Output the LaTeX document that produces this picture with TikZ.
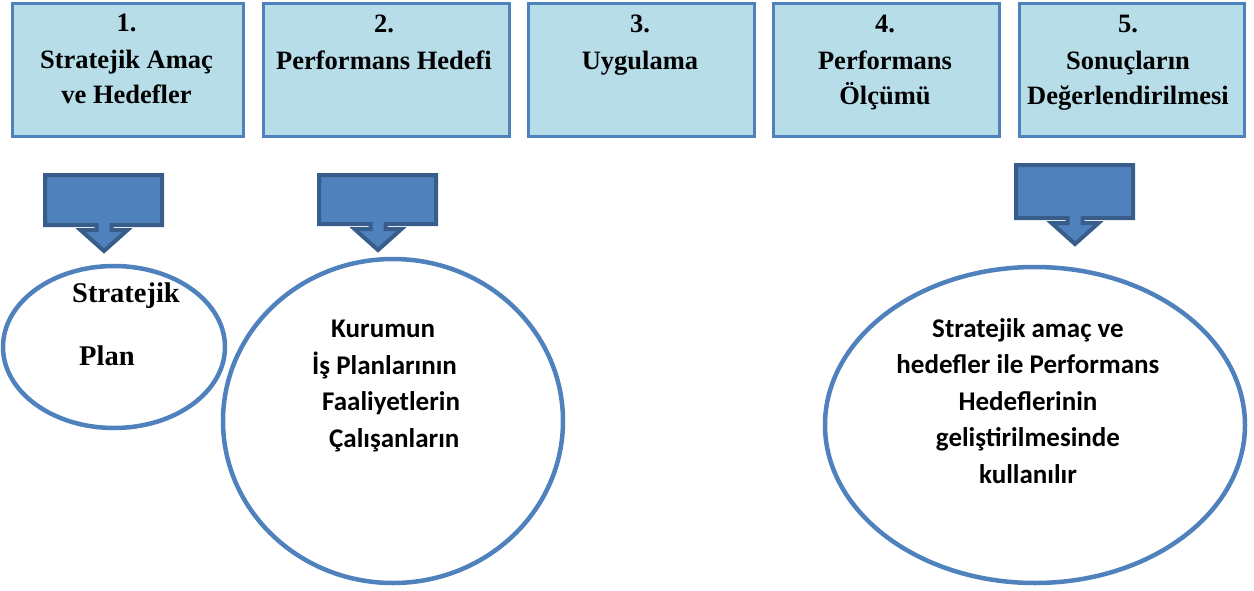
\documentclass[tikz,border=0pt]{standalone}
\usepackage{fontspec}
\usetikzlibrary{shapes.geometric}
\setmainfont{Liberation Serif}
\newfontfamily\calib{Carlito}
\definecolor{boxfill}{HTML}{B7DDE8}
\definecolor{boxline}{HTML}{4F81BD}
\definecolor{arrfill}{HTML}{4F81BD}
\definecolor{arrline}{HTML}{385D8A}
\definecolor{ringline}{HTML}{4F81BD}
\tikzset{
  stagebox/.style={draw=boxline, line width=3pt, fill=boxfill, rectangle, anchor=north west, inner sep=0pt},
  stagetext/.style={font=\bfseries\fontsize{26.5}{35}\selectfont, align=center, anchor=base, inner sep=0pt},
  ring/.style={draw=ringline, line width=4.5pt, ellipse, inner sep=0pt},
  ringtext/.style={font=\calib\bfseries\fontsize{27}{36.5}\selectfont, inner sep=0pt},
  calloutshape/.style={draw=arrline, fill=arrfill, line width=4pt, line join=miter},
}
\newcommand\dcallout[4]{%
  \draw[calloutshape] (#1,#2) coordinate (#4) -- ++(117,0) -- ++(0,#3) -- ++(-50.5,0) -- ++(0,5) -- ++(16,0)
    -- ++(-23.5,21) -- ++(-23.5,-21) -- ++(16,0) -- ++(0,-5) -- ++(-51.5,0) -- cycle;}
\begin{document}
\begin{tikzpicture}[x=1pt,y=-1pt]
\useasboundingbox (0,0) rectangle (1254,590);
% stage boxes
\node[stagebox, minimum width=231pt, minimum height=133pt] (b1) at (11,2) {};
\node[stagebox, minimum width=246pt, minimum height=133pt] (b2) at (262,2) {};
\node[stagebox, minimum width=226pt, minimum height=133pt] (b3) at (527,2) {};
\node[stagebox, minimum width=226pt, minimum height=133pt] (b4) at (772,2) {};
\node[stagebox, minimum width=225pt, minimum height=133pt] (b5) at (1018,2) {};
\node[stagetext] (t1) at (126.5,103) {1.\\[2pt]Stratejik Amaç\\ve Hedefler};
\node[stagetext] (t2) at (384,69) {2.\\[2pt]Performans Hedefi};
\node[stagetext] (t3) at (640,69) {3.\\[2pt]Uygulama};
\node[stagetext] (t4) at (885,104) {4.\\[2pt]Performans\\Ölçümü};
\node[stagetext] (t5) at (1128,104) {5.\\[2pt]Sonuçların\\Değerlendirilmesi};
% callout arrows
\dcallout{45}{175}{50}{a1}
\dcallout{319}{175}{49}{a2}
\dcallout{1016}{165}{53}{a3}
% rings
\node[ring, minimum width=222pt, minimum height=162pt] (c1) at (114,347) {};
\node[ring, minimum width=340pt, minimum height=324pt] (c2) at (393,421) {};
\node[ring, minimum width=420pt, minimum height=316pt] (c3) at (1035,425) {};
\node[font=\bfseries\fontsize{28.5}{63}\selectfont, align=left, anchor=base west, inner sep=0pt] (c1t) at (72,365) {Stratejik\\\hspace*{7pt}Plan};
\node[ringtext, align=left, anchor=base west] (c2t) at (312,447) {\hspace*{19pt}Kurumun\\İş Planlarının\\\hspace*{10pt}Faaliyetlerin\\\hspace*{17pt}Çalışanların};
\node[ringtext, align=center, anchor=base] (c3t) at (1028,483) {Stratejik amaç ve\\hedefler ile Performans\\Hedeflerinin\\geliştirilmesinde\\kullanılır};
\end{tikzpicture}
\end{document}
